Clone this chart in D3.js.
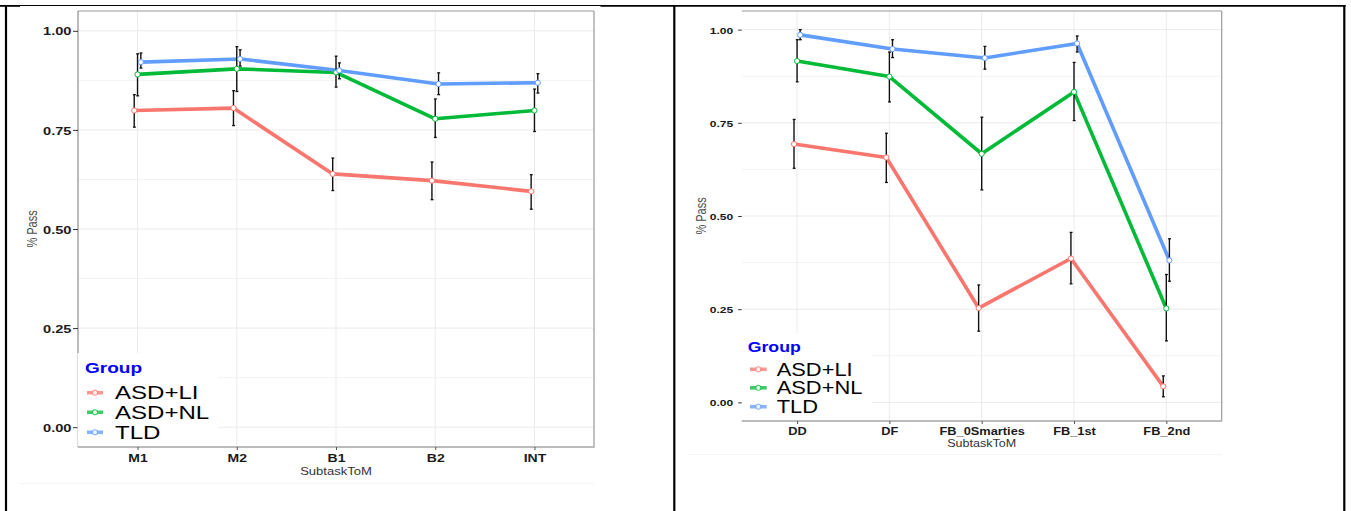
<!DOCTYPE html>
<html><head><meta charset="utf-8">
<script src="https://cdn.jsdelivr.net/npm/d3@7/dist/d3.min.js"></script>
<style>
html,body{margin:0;padding:0;background:#fff;}
svg{display:block;font-family:"Liberation Sans",Arial,sans-serif;}
</style></head>
<body>
<svg id="chart" width="1351" height="511"></svg>
<script>
// ---------- DATA ----------
const groups = ["ASD+LI", "ASD+NL", "TLD"];
const groupColors = ["#F8766D", "#00BA38", "#619CFF"];
const yTickValues = [0, 0.25, 0.5, 0.75, 1.0];
const yTickLabels = ["0.00", "0.25", "0.50", "0.75", "1.00"];
const xTitle = "SubtaskToM";
const yTitle = "% Pass";
const legendTitle = "Group";

// Left chart
const leftCategories = ["M1", "M2", "B1", "B2", "INT"];
const leftLI     = [0.799, 0.805, 0.639, 0.622, 0.595];
const leftLI_lo  = [0.757, 0.761, 0.597, 0.574, 0.550];
const leftLI_hi  = [0.839, 0.849, 0.679, 0.669, 0.637];
const leftNL     = [0.890, 0.904, 0.895, 0.778, 0.799];
const leftNL_lo  = [0.836, 0.847, 0.858, 0.731, 0.746];
const leftNL_hi  = [0.942, 0.960, 0.936, 0.828, 0.853];
const leftTLD    = [0.921, 0.929, 0.900, 0.866, 0.869];
const leftTLD_lo = [0.906, 0.911, 0.879, 0.839, 0.843];
const leftTLD_hi = [0.944, 0.952, 0.919, 0.894, 0.892];

// Right chart
const rightCategories = ["DD", "DF", "FB_0Smarties", "FB_1st", "FB_2nd"];
const rightLI     = [0.693, 0.657, 0.253, 0.386, 0.043];
const rightLI_lo  = [0.628, 0.590, 0.191, 0.318, 0.015];
const rightLI_hi  = [0.759, 0.722, 0.315, 0.456, 0.071];
const rightNL     = [0.916, 0.874, 0.667, 0.833, 0.252];
const rightNL_lo  = [0.860, 0.806, 0.570, 0.756, 0.165];
const rightNL_hi  = [0.973, 0.940, 0.765, 0.912, 0.343];
const rightTLD    = [0.986, 0.948, 0.924, 0.963, 0.381];
const rightTLD_lo = [0.973, 0.925, 0.894, 0.940, 0.325];
const rightTLD_hi = [1.000, 0.973, 0.955, 0.983, 0.439];

// ---------- DRAW ----------
const svg = d3.select("#chart");

function buildSeries(cats, vals, los, his) {
  return groups.map((g, gi) => ({
    group: g, gi, color: groupColors[gi],
    pts: cats.map((c, i) => ({cat: c, v: vals[gi][i], lo: los[gi][i], hi: his[gi][i]}))
  }));
}

function scaledText(parent, x, y, txt, opts) {
  const g = parent.append("g").attr("transform", `translate(${x},${y}) scale(${opts.sx||1.25},1)` + (opts.rot ? ` rotate(${opts.rot})` : ""));
  return g.append("text").text(txt)
    .attr("font-size", opts.fs).attr("font-weight", opts.bold ? "bold" : "normal")
    .attr("fill", opts.fill || "#000").attr("text-anchor", opts.anchor || "start");
}

function drawPanel(p) {
  const g = svg.append("g");
  const x = d3.scalePoint().domain(p.cats).range([p.x0, p.x1]).padding(0.6);
  const y = d3.scaleLinear().domain([-0.05, 1.05]).range([p.y1, p.y0]);
  const step = x.step();
  const dodge = gi => (gi - 1) * step / 30;

  // grid
  const minor = d3.range(-0.125, 1.2, 0.25).filter(v => v > -0.05 && v < 1.05);
  g.selectAll(".gmin").data(minor).join("line")
    .attr("x1", p.x0).attr("x2", p.x1).attr("y1", d => y(d)).attr("y2", d => y(d))
    .attr("stroke", "#f3f3f3").attr("stroke-width", 1);
  g.selectAll(".gmaj").data(yTickValues).join("line")
    .attr("x1", p.x0).attr("x2", p.x1).attr("y1", d => y(d)).attr("y2", d => y(d))
    .attr("stroke", "#ebebeb").attr("stroke-width", 1);
  g.selectAll(".gx").data(p.cats).join("line")
    .attr("x1", d => x(d)).attr("x2", d => x(d)).attr("y1", p.y0).attr("y2", p.y1)
    .attr("stroke", "#ebebeb").attr("stroke-width", 1);

  // panel border
  g.append("line").attr("x1", p.x0).attr("x2", p.x1).attr("y1", p.y0).attr("y2", p.y0).attr("stroke", "#999").attr("stroke-width", 1.2);
  g.append("line").attr("x1", p.x1).attr("x2", p.x1).attr("y1", p.y0).attr("y2", p.y1).attr("stroke", "#999").attr("stroke-width", 1.2);
  if (p.leftLine) g.append("line").attr("x1", p.x0).attr("x2", p.x0).attr("y1", p.y0).attr("y2", p.y1).attr("stroke", "#777").attr("stroke-width", 1);
  g.append("line").attr("x1", p.x0).attr("x2", p.x1 + 0.6).attr("y1", p.y1).attr("y2", p.y1).attr("stroke", "#bbb").attr("stroke-width", 1.8);

  // y axis
  const ya = g.append("g").attr("transform", `translate(${p.x0},0)`)
    .call(d3.axisLeft(y).tickValues(yTickValues).tickFormat((d, i) => yTickLabels[i]).tickSize(p.ytick).tickPadding(0));
  ya.select(".domain").remove();
  ya.selectAll(".tick line").attr("stroke", "#333");
  ya.selectAll(".tick text").each(function () {
    const t = d3.select(this);
    t.attr("x", 0).attr("dy", null).attr("y", p.ytfs * 0.36)
      .attr("font-size", p.ytfs).attr("font-weight", "bold").attr("fill", "#1a1a1a")
      .attr("font-family", "Liberation Sans, Arial, sans-serif")
      .attr("transform", `translate(${-p.ytick - p.ygap},0) scale(1.27,1)`);
  });

  // x axis
  const xa = g.append("g").attr("transform", `translate(0,${p.y1})`)
    .call(d3.axisBottom(x).tickSize(3).tickPadding(0));
  xa.select(".domain").remove();
  xa.selectAll(".tick line").attr("stroke", "#555");
  xa.selectAll(".tick text").each(function () {
    d3.select(this).attr("y", 0).attr("dy", null)
      .attr("font-size", p.xtfs).attr("font-weight", "bold").attr("fill", "#1a1a1a")
      .attr("font-family", "Liberation Sans, Arial, sans-serif")
      .attr("transform", `translate(0,${p.xtBase - p.y1}) scale(1.22,1)`);
  });

  // titles
  const cx = (p.x0 + p.x1) / 2, cy = (p.y0 + p.y1) / 2;
  scaledText(g, cx, p.xTitleBase, xTitle, {fs: p.xTitleFs, sx: 1.22, fill: "#333", anchor: "middle"});
  scaledText(g, p.yTitleX, cy, yTitle, {fs: 11, sx: 1.25, fill: "#4d4d4d", anchor: "middle", rot: -90});

  // series
  const series = p.series;
  const line = d3.line().x((d, i, arr) => x(d.cat) + d.off).y(d => y(d.v));
  series.forEach(s => s.pts.forEach(d => d.off = dodge(s.gi)));
  g.selectAll(".ln").data(series).join("path")
    .attr("d", s => line(s.pts)).attr("fill", "none")
    .attr("stroke", s => s.color).attr("stroke-width", 3.6).attr("stroke-linejoin", "round");

  // error bars
  series.forEach(s => {
    const eb = g.append("g");
    s.pts.forEach(d => {
      const xx = x(d.cat) + d.off;
      eb.append("line").attr("x1", xx).attr("x2", xx).attr("y1", y(d.hi)).attr("y2", y(d.lo)).attr("stroke", "#111").attr("stroke-width", 1.4);
      [d.hi, d.lo].forEach(v => eb.append("line").attr("x1", xx - 1.3).attr("x2", xx + 1.6).attr("y1", y(v)).attr("y2", y(v)).attr("stroke", "#111").attr("stroke-width", 1.3));
    });
  });

  // points
  series.forEach(s => {
    g.selectAll(null).data(s.pts).join("circle")
      .attr("cx", d => x(d.cat) + d.off).attr("cy", d => y(d.v)).attr("r", 2.6)
      .attr("fill", "#fff").attr("stroke", s.color).attr("stroke-width", 1);
  });

  // legend
  const L = p.legend;
  g.append("rect").attr("x", L.bx0).attr("y", L.by0).attr("width", L.bx1 - L.bx0).attr("height", L.by1 - L.by0).attr("fill", "#fff");
  scaledText(g, L.tx, L.tBase, legendTitle, {fs: L.tfs, sx: L.tsx, bold: true, fill: "#0000FF"});
  groups.forEach((gname, i) => {
    const yy = L.rows[i];
    g.append("line").attr("x1", L.kx0).attr("x2", L.kx1).attr("y1", yy).attr("y2", yy)
      .attr("stroke", groupColors[i]).attr("stroke-width", 3.6).attr("opacity", 0.75);
    g.append("circle").attr("cx", (L.kx0 + L.kx1) / 2).attr("cy", yy).attr("r", 2.6)
      .attr("fill", "#fff").attr("stroke", groupColors[i]).attr("stroke-width", 1).attr("opacity", 0.85);
    scaledText(g, L.lx, yy + L.lfs * 0.36, gname, {fs: L.lfs, sx: L.lsx});
  });
}

drawPanel({
  cats: leftCategories,
  series: buildSeries(leftCategories, [leftLI, leftNL, leftTLD], [leftLI_lo, leftNL_lo, leftTLD_lo], [leftLI_hi, leftNL_hi, leftTLD_hi]),
  x0: 78, x1: 594, y0: 11, y1: 447, leftLine: true,
  ytick: 5, ygap: 1.6, ytfs: 11.5, xtfs: 11.5, xtBase: 462.3,
  xTitleBase: 475, xTitleFs: 10.7, yTitleX: 37,
  legend: {bx0: 77.5, bx1: 218, by0: 353, by1: 446, tx: 85, tBase: 373.3, tfs: 15, tsx: 1.27,
           rows: [392.7, 412.3, 432.3], kx0: 87, kx1: 103, lx: 115, lfs: 18.5, lsx: 1.3}
});

drawPanel({
  cats: rightCategories,
  series: buildSeries(rightCategories, [rightLI, rightNL, rightTLD], [rightLI_lo, rightNL_lo, rightTLD_lo], [rightLI_hi, rightNL_hi, rightTLD_hi]),
  x0: 741.7, x1: 1221.7, y0: 11, y1: 421, leftLine: false,
  ytick: 3.5, ygap: 5, ytfs: 9.5, xtfs: 10.5, xtBase: 435,
  xTitleBase: 447.3, xTitleFs: 10.3, yTitleX: 705.5,
  legend: {bx0: 742.5, bx1: 872, by0: 333, by1: 420, tx: 747.7, tBase: 351.7, tfs: 15, tsx: 1.18,
           rows: [369.3, 387.8, 406.7], kx0: 750, kx1: 766.7, lx: 776.7, lfs: 17.5, lsx: 1.25}
});

// faint plot-image bottom edges
svg.append("line").attr("x1", 20).attr("x2", 594).attr("y1", 483.5).attr("y2", 483.5).attr("stroke", "#f4f4f4");
svg.append("line").attr("x1", 688).attr("x2", 1222).attr("y1", 454.5).attr("y2", 454.5).attr("stroke", "#f4f4f4");

// table frame
const frame = svg.append("g").attr("stroke", "#000");
frame.append("line").attr("x1", 0).attr("x2", 1345.5).attr("y1", 5.5).attr("y2", 5.5).attr("stroke-width", 1.2);
frame.append("line").attr("x1", 0).attr("x2", 20).attr("y1", 5.9).attr("y2", 5.9).attr("stroke-width", 1.8);
frame.append("line").attr("x1", 600.5).attr("x2", 1345.5).attr("y1", 5.9).attr("y2", 5.9).attr("stroke-width", 1.8);
[6, 674.3, 1344.3].forEach(xx => frame.append("line").attr("x1", xx).attr("x2", xx).attr("y1", 5).attr("y2", 511).attr("stroke-width", 2.2));
</script>
</body></html>
